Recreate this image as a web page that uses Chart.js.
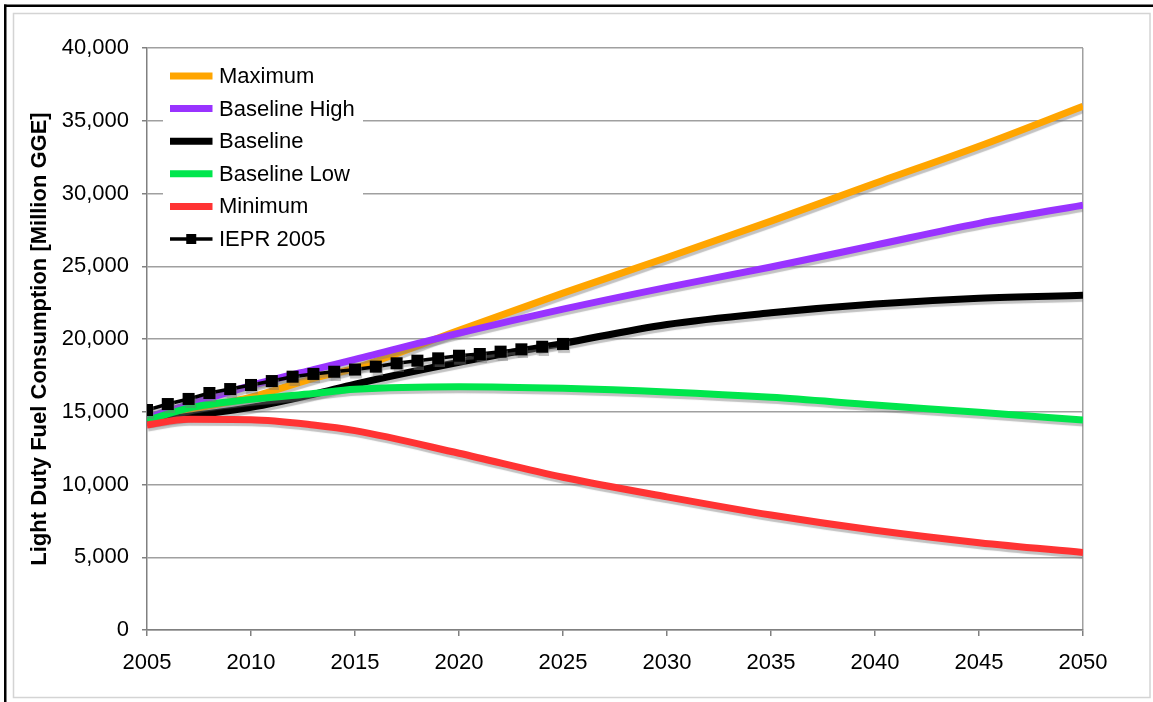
<!DOCTYPE html>
<html>
<head>
<meta charset="utf-8">
<script src="https://cdn.jsdelivr.net/npm/chart.js@4.4.1/dist/chart.umd.min.js"></script>
<style>
  html, body { margin: 0; padding: 0; background: #fff; }
  #wrap { width: 1153px; height: 702px; position: relative; }
</style>
</head>
<body>
<div id="wrap"><canvas id="c" width="1153" height="702"></canvas></div>
<script>
// Scenario years and fuel consumption (million gallons of gasoline equivalent)
const years = [2005, 2007, 2010, 2013, 2015, 2020, 2025, 2030, 2035, 2040, 2045, 2050];
const maximum      = [14300, 15100, 16000, 17300, 18000, 20600, 23150, 25600, 28100, 30700, 33250, 36000];
const baselineHigh = [14600, 15500, 16800, 17900, 18600, 20400, 22050, 23550, 24950, 26450, 27950, 29200];
const baseline     = [14300, 14700, 15300, 16200, 16900, 18400, 19700, 21000, 21800, 22400, 22800, 23000];
const baselineLow  = [14400, 15250, 15850, 16260, 16540, 16720, 16610, 16360, 15990, 15460, 14960, 14430];
const minimum      = [14090, 14480, 14450, 14090, 13700, 12150, 10500, 9150, 7900, 6850, 6000, 5330];

// IEPR 2005 forecast, annual
const ieprYears = [2005, 2006, 2007, 2008, 2009, 2010, 2011, 2012, 2013, 2014, 2015,
                   2016, 2017, 2018, 2019, 2020, 2021, 2022, 2023, 2024, 2025];
const iepr2005  = [15120, 15530, 15880, 16290, 16560, 16840, 17110, 17410, 17600, 17750, 17900,
                   18100, 18330, 18510, 18670, 18850, 18970, 19130, 19290, 19470, 19660];

// Axis ticks
const xTickYears  = [2005, 2010, 2015, 2020, 2025, 2030, 2035, 2040, 2045, 2050];
const yTickValues = [0, 5000, 10000, 15000, 20000, 25000, 30000, 35000, 40000];

const seriesNames  = ['Maximum', 'Baseline High', 'Baseline', 'Baseline Low', 'Minimum', 'IEPR 2005'];
const seriesColors = ['#FFA500', '#9933FF', '#000000', '#00E64D', '#FF3333', '#000000'];

const FONT = "'Liberation Sans', Arial, sans-serif";

function pts(xs, ys) { return xs.map((x, i) => ({ x: x, y: ys[i] })); }

function lineSet(i, values) {
  return {
    label: seriesNames[i],
    data: pts(years, values),
    borderColor: seriesColors[i],
    backgroundColor: seriesColors[i],
    borderWidth: 7,
    pointRadius: 0,
    pointHoverRadius: 0,
    cubicInterpolationMode: 'monotone',
    borderCapStyle: 'butt',
    fill: false,
    order: 6 - i
  };
}

const datasets = [
  lineSet(0, maximum),
  lineSet(1, baselineHigh),
  lineSet(2, baseline),
  lineSet(3, baselineLow),
  lineSet(4, minimum),
  {
    label: seriesNames[5],
    data: pts(ieprYears, iepr2005),
    borderColor: seriesColors[5],
    backgroundColor: seriesColors[5],
    borderWidth: 3.5,
    pointStyle: 'rect',
    pointRadius: 8.5,
    pointBorderWidth: 0,
    pointHoverRadius: 8.5,
    tension: 0,
    fill: false,
    order: 0
  }
];

// Page frame: heavy top/left rule and a light inner box
const framePlugin = {
  id: 'frame',
  beforeDraw(chart) {
    const ctx = chart.ctx;
    ctx.save();
    ctx.fillStyle = '#ffffff';
    ctx.fillRect(0, 0, chart.width, chart.height);
    ctx.strokeStyle = '#d4d4d4';
    ctx.lineWidth = 1.5;
    ctx.strokeRect(13.5, 13.5, 1150 - 13.5, 697.5 - 13.5);
    ctx.fillStyle = '#000000';
    ctx.fillRect(4, 4.5, chart.width - 4, 2.5);
    ctx.fillRect(4, 4.5, 2.5, chart.height - 4.5);
    ctx.restore();
  }
};

// Drop shadow under every series
const shadowPlugin = {
  id: 'lineShadow',
  beforeDatasetDraw(chart) {
    const ctx = chart.ctx;
    ctx.save();
    ctx.shadowColor = 'rgba(120,120,120,0.45)';
    ctx.shadowOffsetX = 1;
    ctx.shadowOffsetY = 3;
    ctx.shadowBlur = 1;
  },
  afterDatasetDraw(chart) {
    chart.ctx.restore();
  }
};

// Legend box drawn inside the plot area, upper left
const legendPlugin = {
  id: 'insideLegend',
  afterDatasetsDraw(chart) {
    const ctx = chart.ctx;
    const area = chart.chartArea;
    const boxX = area.left + 16, boxY = area.top + 9, boxW = 200, boxH = 200;
    ctx.save();
    ctx.fillStyle = '#ffffff';
    ctx.fillRect(boxX, boxY, boxW, boxH);
    ctx.font = '22px ' + FONT;
    ctx.textBaseline = 'middle';
    ctx.fillStyle = '#000000';
    chart.data.datasets.forEach((ds, i) => {
      const y = area.top + 28 + i * 32.6;
      const x0 = area.left + 23, x1 = area.left + 65.5;
      ctx.strokeStyle = ds.borderColor;
      ctx.lineWidth = ds.pointStyle === 'rect' ? 3.5 : 7;
      ctx.beginPath();
      ctx.moveTo(x0, y);
      ctx.lineTo(x1, y);
      ctx.stroke();
      if (ds.pointStyle === 'rect') {
        const s = 10;
        ctx.fillStyle = ds.backgroundColor;
        ctx.fillRect((x0 + x1) / 2 - s / 2, y - s / 2, s, s);
      }
      ctx.fillStyle = '#000000';
      ctx.fillText(ds.label, area.left + 72, y + 1);
    });
    ctx.restore();
  }
};

new Chart(document.getElementById('c'), {
  type: 'line',
  data: { datasets: datasets },
  options: {
    responsive: false,
    animation: false,
    events: [],
    layout: { padding: { top: 48, right: 70, bottom: 0, left: 0 } },
    plugins: { legend: { display: false }, tooltip: { enabled: false } },
    scales: {
      x: {
        type: 'linear',
        min: 2005,
        max: 2050,
        afterBuildTicks(scale) { scale.ticks = xTickYears.map(v => ({ value: v })); },
        afterFit(scale) { scale.height = 72; },
        ticks: {
          color: '#000',
          font: { family: FONT, size: 22 },
          padding: 14,
          maxRotation: 0,
          autoSkip: false,
          callback: v => String(v)
        },
        grid: {
          color: c => (c.tick && c.tick.value === 2050) ? '#a0a0a0' : 'rgba(0,0,0,0)',
          tickColor: '#808080',
          tickLength: 6,
          lineWidth: 1.5
        },
        border: { color: '#808080', width: 1.5 }
      },
      y: {
        min: 0,
        max: 40000,
        afterBuildTicks(scale) { scale.ticks = yTickValues.map(v => ({ value: v })); },
        afterFit(scale) { scale.width = 147; },
        ticks: {
          color: '#000',
          font: { family: FONT, size: 22 },
          padding: 13,
          callback: v => Number(v).toLocaleString('en-US')
        },
        grid: {
          color: '#a0a0a0',
          tickColor: '#808080',
          tickLength: 5,
          lineWidth: 1.5
        },
        border: { color: '#808080', width: 1.5 },
        title: {
          display: true,
          text: 'Light Duty Fuel Consumption [Million GGE]',
          color: '#000',
          font: { family: FONT, size: 22, weight: 'bold' },
          padding: { top: 27, bottom: 0 }
        }
      }
    }
  },
  plugins: [framePlugin, shadowPlugin, legendPlugin]
});
</script>
</body>
</html>
